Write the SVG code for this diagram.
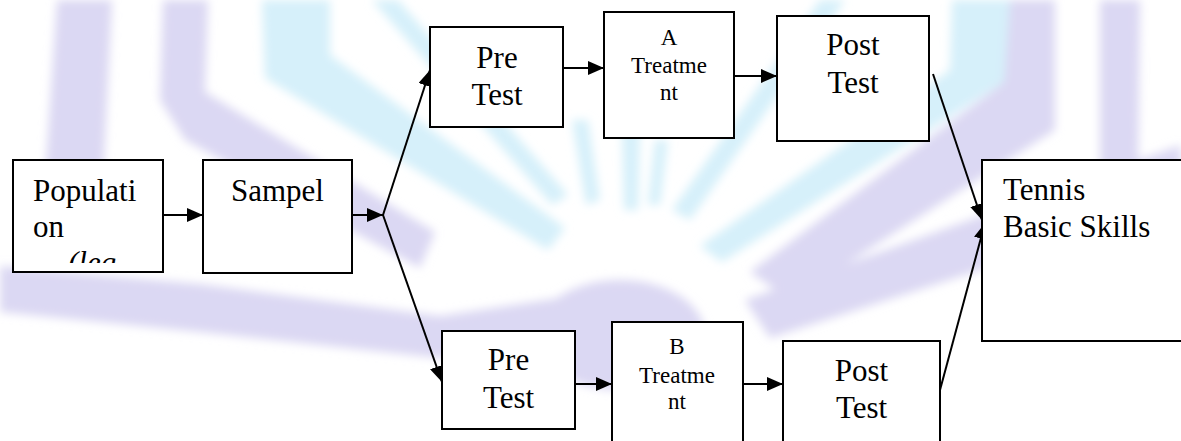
<svg xmlns="http://www.w3.org/2000/svg" width="1181" height="441" viewBox="0 0 1181 441">
<style>
.box{fill:#fff;stroke:#000;stroke-width:2}
.t{font-size:31px;fill:#000}
.s{font-size:23px;fill:#000}
.c{stroke:#000;stroke-width:2;fill:none;marker-end:url(#ah)}
.lav{fill:#dbd8f3}
.cy{fill:#d6f0fa}
</style>
<defs>
<marker id="ah" markerUnits="userSpaceOnUse" markerWidth="16" markerHeight="14" refX="16" refY="7" orient="auto">
<path d="M0,0 L16,7 L0,14 Z" fill="#000"/>
</marker>
<clipPath id="popclip"><rect x="14" y="161" width="148" height="102"/></clipPath>
<filter id="soft" x="-5%" y="-5%" width="110%" height="110%"><feGaussianBlur stdDeviation="5"/></filter>
</defs>
<rect width="1181" height="441" fill="#fff"/>
<g id="watermark" filter="url(#soft)">
<polygon class="lav" points="57,0 112,0 102,200 70,240 38,240 47,150"/>
<polygon class="lav" points="0,266 200,284 440,316 560,298 585,338 440,358 200,332 0,312"/>
<polygon class="lav" points="163,0 208,0 205,92 435,232 420,268 185,140 160,100"/>
<polygon class="cy" points="262,0 330,0 330,55 565,228 548,250 265,78"/>
<polygon class="cy" points="372,0 398,0 568,195 552,205"/>
<polygon class="lav" points="1100,0 1140,0 1138,175 1100,175"/>
<polygon class="lav" points="1181,145 1181,205 770,338 745,300"/>
<polygon class="lav" points="1005,0 1055,0 1055,130 790,300 750,272 1000,85"/>
<polygon class="cy" points="952,0 1010,0 1004,82 722,262 700,246 950,70"/>
<polygon class="cy" points="820,0 845,0 690,220 672,210"/>
<polygon class="cy" points="572,120 588,120 600,200 586,205"/>
<polygon class="cy" points="622,125 640,125 638,210 624,210"/>
<polygon class="cy" points="655,140 668,140 660,205 648,205"/>
<ellipse class="lav" cx="620" cy="335" rx="85" ry="55"/>
</g>
<g id="connectors">
<line class="c" x1="164" y1="215" x2="203" y2="215"/>
<line class="c" x1="352" y1="215" x2="383" y2="215"/>
<line class="c" x1="383" y1="215" x2="430" y2="70"/>
<line class="c" x1="383" y1="215" x2="442" y2="382"/>
<line class="c" x1="563" y1="68" x2="604" y2="68"/>
<line class="c" x1="734" y1="76" x2="777" y2="76"/>
<line class="c" x1="933" y1="74" x2="982" y2="220"/>
<line class="c" x1="940" y1="390" x2="985" y2="223"/>
<line class="c" x1="575" y1="384" x2="612" y2="384"/>
<line class="c" x1="743" y1="384" x2="783" y2="384"/>
</g>
<g font-family="'Liberation Serif', 'Times New Roman', 'DejaVu Serif', serif">
<g id="population">
<rect class="box" x="13" y="160" width="150" height="112"/>
<g clip-path="url(#popclip)">
<text class="t" x="33" y="201">Populati</text>
<text class="t" x="33" y="237">on</text>
<text class="t" x="68" y="273" font-style="italic">(leg</text>
</g>
</g>
<g id="sampel">
<rect class="box" x="203" y="160" width="149" height="113"/>
<text class="t" x="277.5" y="201" text-anchor="middle">Sampel</text>
</g>
<g id="pretest-a">
<rect class="box" x="430" y="27" width="133" height="100"/>
<text class="t" x="497" y="68" text-anchor="middle">Pre</text>
<text class="t" x="497" y="105" text-anchor="middle">Test</text>
</g>
<g id="treatment-a">
<rect class="box" x="604" y="12" width="130" height="126"/>
<text class="s" x="669" y="45" text-anchor="middle">A</text>
<text class="s" x="669" y="73" text-anchor="middle">Treatme</text>
<text class="s" x="669" y="100" text-anchor="middle">nt</text>
</g>
<g id="posttest-a">
<rect class="box" x="777" y="16" width="152" height="125"/>
<text class="t" x="853" y="55" text-anchor="middle">Post</text>
<text class="t" x="853" y="93" text-anchor="middle">Test</text>
</g>
<g id="tennis">
<rect class="box" x="982" y="160" width="210" height="181"/>
<text class="t" x="1003" y="200">Tennis</text>
<text class="t" x="1003" y="237">Basic Skills</text>
</g>
<g id="pretest-b">
<rect class="box" x="442" y="331" width="133" height="98"/>
<text class="t" x="508.5" y="370" text-anchor="middle">Pre</text>
<text class="t" x="508.5" y="408" text-anchor="middle">Test</text>
</g>
<g id="treatment-b">
<rect class="box" x="612" y="322" width="131" height="130"/>
<text class="s" x="677" y="354" text-anchor="middle">B</text>
<text class="s" x="677" y="383" text-anchor="middle">Treatme</text>
<text class="s" x="677" y="409" text-anchor="middle">nt</text>
</g>
<g id="posttest-b">
<rect class="box" x="783" y="341" width="157" height="110"/>
<text class="t" x="861.5" y="381" text-anchor="middle">Post</text>
<text class="t" x="861.5" y="418" text-anchor="middle">Test</text>
</g>
</g>
</svg>
